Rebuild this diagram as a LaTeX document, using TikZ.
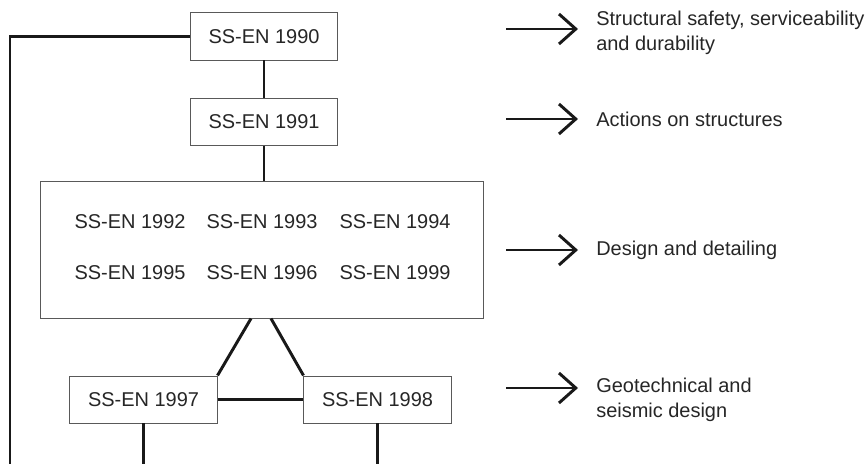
\documentclass[tikz,border=0pt]{standalone}
\usepackage{fontspec}
\setmainfont{Liberation Sans}
\usetikzlibrary{arrows.meta}
\tikzset{
    stdnode/.style = {rectangle, line width=0.7pt, draw=black!65, minimum width=3.675cm, minimum height=1.175cm, inner sep=0pt, text=black!85},
    bignode/.style = {rectangle, line width=0.7pt, draw=black!65, minimum width=11.05cm, minimum height=3.4cm},
    codenode/.style = {inner sep=0pt, text=black!85},
    descnode/.style = {align=left, anchor=west, inner sep=0pt, text=black!85},
    edgen/.style = {line width=2.1pt, black!90},
    edgea/.style = {line width=2.1pt, black!90, -{Straight Barb[length=0.42cm, width=0.75cm, line width=2.1pt]}, shorten >=0.45cm},
    every picture/.style={font issue=\fontsize{14.2pt}{17.8pt}},
    font issue/.style={execute at begin picture={#1\selectfont}}
}
\begin{document}
\begin{tikzpicture}[x=0.025cm, y=-0.025cm]
\useasboundingbox (0,0) rectangle (867,464);
%
\node[stdnode] at (264, 36.5) (n1990) {SS-EN 1990};
\node[stdnode] at (264, 122) (n1991) {SS-EN 1991};
\node[bignode] at (262, 250) (design) {};
\node[codenode] at (130,222) (n1992) {SS-EN 1992};
\node[codenode] at (262,222) (n1993) {SS-EN 1993};
\node[codenode] at (395,222) (n1994) {SS-EN 1994};
\node[codenode] at (130,273) (n1995) {SS-EN 1995};
\node[codenode] at (262,273) (n1996) {SS-EN 1996};
\node[codenode] at (395,273) (n1999) {SS-EN 1999};
\node[stdnode] at (143.5,399.5) (n1997) {SS-EN 1997};
\node[stdnode] at (377.5,399.5) (n1998) {SS-EN 1998};
%
\node[descnode] at (596, 33) (dsafety) {Structural safety, serviceability\\and durability};
\node[descnode] at (596,119) (dactions) {Actions on structures};
\node[descnode] at (596,250) (ddesign) {Design and detailing};
\node[descnode] at (596,400) (dgeo) {Geotechnical and\\seismic design};
%
\coordinate (a1) at (506, 29);
\coordinate (a2) at (506,119);
\coordinate (a3) at (506,250);
\coordinate (a4) at (506,388);
\coordinate (bl) at (10,464);
\coordinate (b97) at (n1997.south |- bl);
\coordinate (b98) at (n1998.south |- bl);
%
\draw[edgen] (n1990.west) -| (bl);
\draw[edgen] (n1990) -- (n1991);
\draw[edgen] (n1991.south) -- (n1991.south |- design.north);
\draw[edgen] ([xshift=-0.275cm]design.south) -- (n1997.north east);
\draw[edgen] ([xshift=0.225cm]design.south) -- (n1998.north west);
\draw[edgen] (n1997) -- (n1998);
\draw[edgen] (n1997.south) -- (b97);
\draw[edgen] (n1998.south) -- (b98);
%
\draw[edgea] (a1) -- (a1 -| dsafety.west);
\draw[edgea] (a2) -- (a2 -| dactions.west);
\draw[edgea] (a3) -- (a3 -| ddesign.west);
\draw[edgea] (a4) -- (a4 -| dgeo.west);
\end{tikzpicture}
\end{document}
